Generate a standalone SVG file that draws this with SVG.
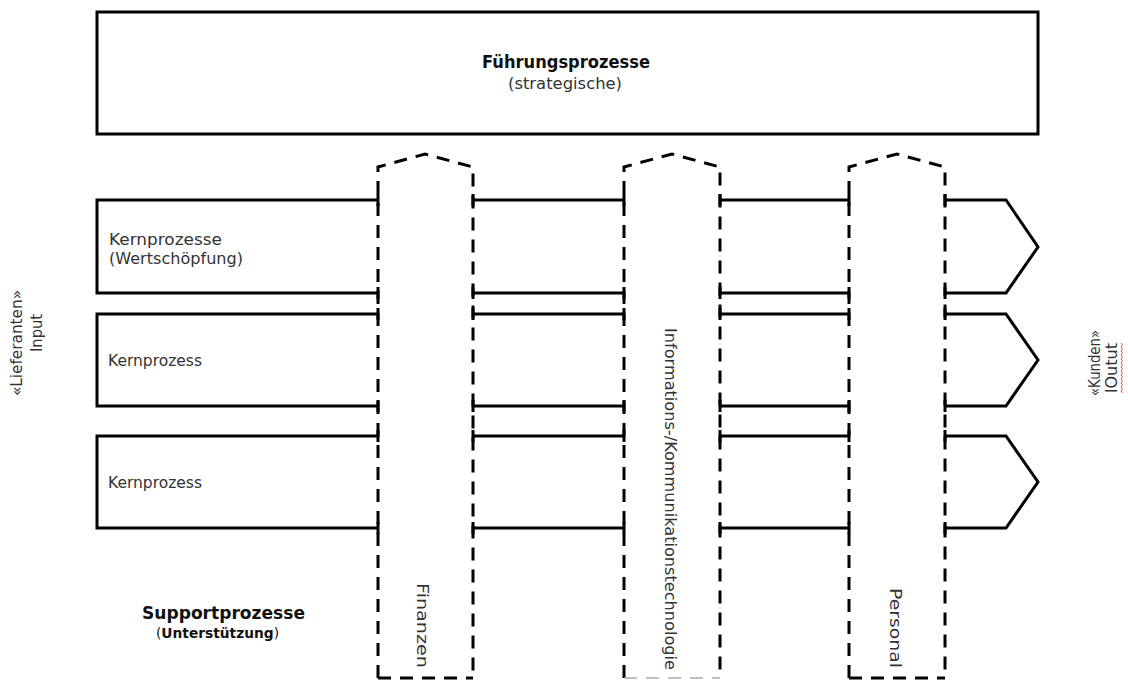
<svg xmlns="http://www.w3.org/2000/svg" width="1128" height="681" viewBox="0 0 1128 681">
<style>
.solid{fill:none;stroke:#000;stroke-width:3;stroke-linejoin:miter}
.dash{fill:none;stroke:#000;stroke-width:3;stroke-dasharray:13 9}
.gdash{fill:none;stroke:#aaa;stroke-width:1.5;stroke-dasharray:13 9}
.t{font-family:"DejaVu Sans","Liberation Sans",sans-serif;font-size:15px;fill:#333}
.b{font-family:"DejaVu Sans","Liberation Sans",sans-serif;font-weight:bold;fill:#111}
</style>
<rect width="1128" height="681" fill="#fff"/>
<g id="fuehrung">
<rect class="solid" x="97" y="12" width="941" height="122"/>
<text class="b" x="482" y="68" font-size="17" textLength="168" lengthAdjust="spacingAndGlyphs">Führungsprozesse</text>
<text class="t" x="508" y="89" textLength="114" lengthAdjust="spacingAndGlyphs">(strategische)</text>
</g>
<g id="connectors">
<path class="solid" d="M378,200 H97 V293 H378"/>
<path class="solid" d="M473,200 H624 M473,293 H624 M720,200 H849 M720,293 H849"/>
<path class="solid" d="M945,200 H1006 L1038,247 L1006,293 H945"/>
<path class="solid" d="M378,314 H97 V406 H378"/>
<path class="solid" d="M473,314 H624 M473,406 H624 M720,314 H849 M720,406 H849"/>
<path class="solid" d="M945,314 H1006 L1038,360 L1006,406 H945"/>
<path class="solid" d="M378,436 H97 V528 H378"/>
<path class="solid" d="M473,436 H624 M473,528 H624 M720,436 H849 M720,528 H849"/>
<path class="solid" d="M945,436 H1006 L1038,482 L1006,528 H945"/>
<path class="solid" d="M378,194 V206 M473,194 V206 M624,194 V206 M720,194 V206 M849,194 V206 M945,194 V206
M378,287 V299 M473,287 V299 M624,287 V299 M720,287 V299 M849,287 V299 M945,287 V299
M378,308 V320 M473,308 V320 M624,308 V320 M720,308 V320 M849,308 V320 M945,308 V320
M378,400 V412 M473,400 V412 M624,400 V412 M720,400 V412 M849,400 V412 M945,400 V412
M378,430 V442 M473,430 V442 M624,430 V442 M720,430 V442 M849,430 V442 M945,430 V442
M378,522 V534 M473,522 V534 M624,522 V534 M720,522 V534 M849,522 V534 M945,522 V534"/>
</g>
<g id="kern1">
<text class="t" x="109" y="245" textLength="113" lengthAdjust="spacingAndGlyphs">Kernprozesse</text>
<text class="t" x="109" y="264" textLength="134" lengthAdjust="spacingAndGlyphs">(Wertschöpfung)</text>
</g>
<g id="kern2">
<text class="t" x="108" y="366" textLength="94" lengthAdjust="spacingAndGlyphs">Kernprozess</text>
</g>
<g id="kern3">
<text class="t" x="108" y="488" textLength="94" lengthAdjust="spacingAndGlyphs">Kernprozess</text>
</g>
<g id="finanzen">
<path class="dash" d="M378,678 V167 L425,154 L473,167 V678"/>
<path class="dash" d="M378,678 H473"/>
<text class="t" transform="translate(422,583) rotate(90)" dominant-baseline="central" textLength="85" lengthAdjust="spacingAndGlyphs">Finanzen</text>
</g>
<g id="ikt">
<path class="dash" d="M624,678 V167 L672,154 L720,167 V678"/>
<path class="gdash" d="M624,678 H720"/>
<text class="t" transform="translate(670,328) rotate(90)" dominant-baseline="central" textLength="342" lengthAdjust="spacingAndGlyphs">Informations-/Kommunikationstechnologie</text>
</g>
<g id="personal">
<path class="dash" d="M849,678 V167 L897,154 L945,167 V678"/>
<path class="dash" d="M849,678 H945"/>
<text class="t" transform="translate(895,588) rotate(90)" dominant-baseline="central" textLength="80" lengthAdjust="spacingAndGlyphs">Personal</text>
</g>
<g id="support">
<text class="b" x="142" y="619" font-size="17" textLength="163" lengthAdjust="spacingAndGlyphs">Supportprozesse</text>
<text class="b" x="156" y="638" font-size="14" textLength="123" lengthAdjust="spacingAndGlyphs"><tspan font-weight="normal">(</tspan>Unterstützung<tspan font-weight="normal">)</tspan></text>
</g>
<g id="input">
<text class="t" transform="translate(17,396) rotate(-90)" dominant-baseline="central" textLength="106" lengthAdjust="spacingAndGlyphs">«Lieferanten»</text>
<text class="t" transform="translate(37,352) rotate(-90)" dominant-baseline="central" textLength="38" lengthAdjust="spacingAndGlyphs">Input</text>
</g>
<g id="output">
<text class="t" transform="translate(1095,396) rotate(-90)" dominant-baseline="central" textLength="66" lengthAdjust="spacingAndGlyphs">«Kunden»</text>
<text class="t" transform="translate(1112,393) rotate(-90)" dominant-baseline="central" textLength="50" lengthAdjust="spacingAndGlyphs">lOutut</text>
<path d="M1121,343 l1.5,2 l-1.5,2 l1.5,2 l-1.5,2 l1.5,2 l-1.5,2 l1.5,2 l-1.5,2 l1.5,2 l-1.5,2 l1.5,2 l-1.5,2 l1.5,2 l-1.5,2 l1.5,2 l-1.5,2 l1.5,2 l-1.5,2 l1.5,2 l-1.5,2 l1.5,2 l-1.5,2 l1.5,2 l-1.5,2 l1.5,2" fill="none" stroke="#e03030" stroke-width="0.8"/>
</g>
</svg>
